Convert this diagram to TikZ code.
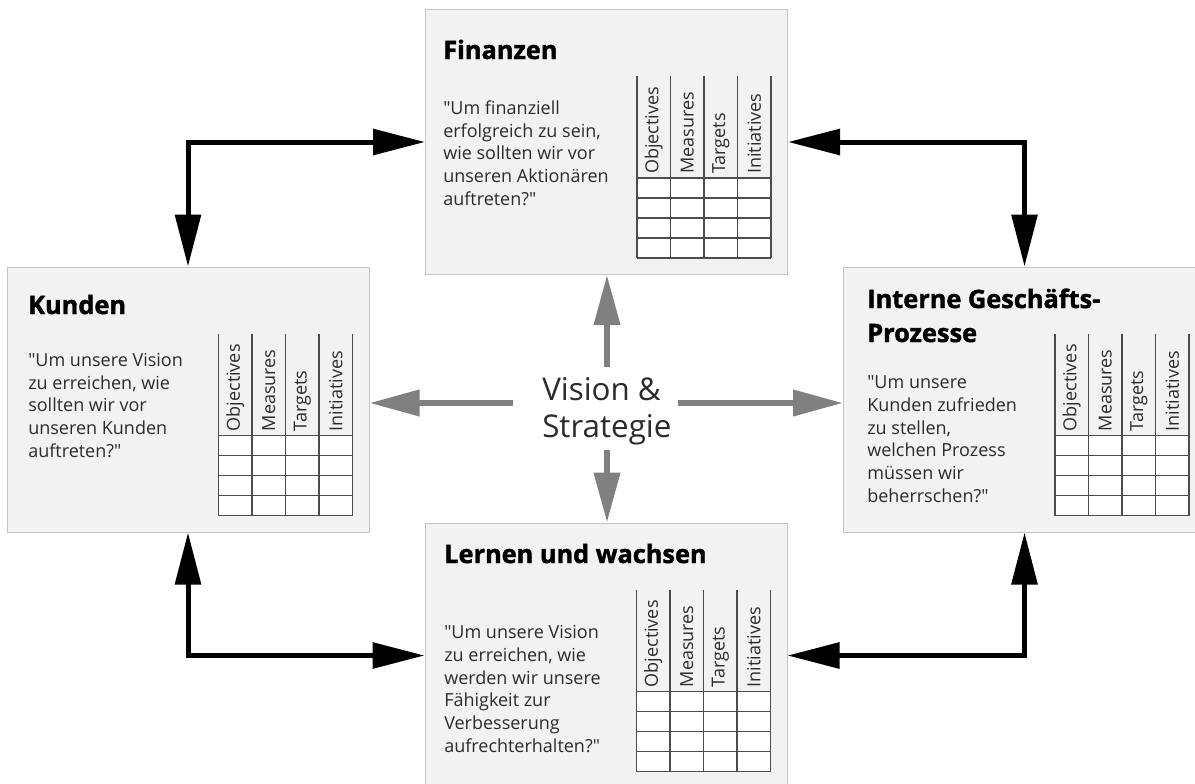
\documentclass[tikz,border=0pt]{standalone}
\usepackage{fontspec}
\setmainfont{Open Sans}[Ligatures=TeXOff,BoldFeatures={FakeBold=1.6}]
\usetikzlibrary{arrows.meta}
\definecolor{boxgray}{HTML}{F2F2F2}
\definecolor{edgegray}{HTML}{C4C4C4}
\definecolor{arrowgray}{HTML}{808080}
\definecolor{textgray}{HTML}{2B2B2B}
\tikzstyle{persp}=[rectangle,draw=edgegray,fill=boxgray,line width=0.75pt,minimum width=271.5pt,minimum height=198.75pt,inner sep=0pt]
\tikzstyle{head}=[anchor=base west,inner sep=0pt,align=left,font=\bfseries\fontsize{19}{25.5}\selectfont]
\tikzstyle{quest}=[anchor=base west,inner sep=0pt,align=left,text=textgray,font=\fontsize{13.5}{17}\selectfont]
\tikzstyle{colhead}=[rotate=90,anchor=west,inner sep=0pt,text=textgray,font=\fontsize{13.5}{17}\selectfont]
\tikzstyle{tabline}=[draw=black!70,line width=0.8pt]
\tikzstyle{blackarrow}=[line width=3.75pt,{Triangle[length=39pt,width=19pt]}-{Triangle[length=39pt,width=19pt]}]
\tikzstyle{grayarrow}=[line width=4.5pt,draw=arrowgray,-{Triangle[length=37.5pt,width=19pt]}]
\newcommand{\kpitab}[1]{%
  \begin{scope}[shift={(#1.north east)}]
    \fill[white] (-151,169) rectangle (-17,249);
    \foreach \i in {0,...,4} \draw[tabline] (-151+33.5*\i,67) -- (-151+33.5*\i,249);
    \foreach \j in {0,...,4} \draw[tabline] (-151,169+20*\j) -- (-17,169+20*\j);
    \foreach \lab [count=\i] in {Objectives,Measures,Targets,Initiatives}
      \node[colhead] (#1-\i) at (-167.75+33.5*\i,165) {\lab};
  \end{scope}}

\begin{document}
\begin{tikzpicture}[x=0.75pt,y=-0.75pt]
\useasboundingbox (0,0) rectangle (1195,783);
\node[persp] (fin) at (606.5,142) {};
\node[persp] (kun) at (188,399.5) {};
\node[persp] (int) at (1024.5,399.5) {};
\node[persp] (lern) at (606,655.5) {};

\draw[blackarrow] (kun.north) |- (fin.west);
\draw[blackarrow] (fin.east) -| (int.north);
\draw[blackarrow] (kun.south) |- (lern.west);
\draw[blackarrow] (int.south) |- (lern.east);

\node[anchor=base west,inner sep=0pt,align=left,text=textgray,font=\fontsize{23.5}{27.5}\selectfont] (vis) at (542,437) {Vision \&\\Strategie};
\coordinate (visN) at (607,367);
\coordinate (visS) at (607,450);
\coordinate (visW) at (513,403);
\coordinate (visE) at (678,403);
\draw[grayarrow] (visN) -- (visN |- fin.south);
\draw[grayarrow] (visS) -- (visS |- lern.north);
\draw[grayarrow] (visW) -- (visW -| kun.east);
\draw[grayarrow] (visE) -- (visE -| int.west);

\kpitab{fin}
\kpitab{kun}
\kpitab{int}
\kpitab{lern}

\node[head] (fin-t) at (443,59) {Finanzen};
\node[quest] (fin-q) at (443,205) {"Um finanziell\\erfolgreich zu sein,\\wie sollten wir vor\\unseren Aktionären\\auftreten?"};
\node[head] (kun-t) at (28,314) {Kunden};
\node[quest] (kun-q) at (28,457) {"Um unsere Vision\\zu erreichen, wie\\sollten wir vor\\unseren Kunden\\auftreten?"};
\node[head] (int-t) at (867,342) {Interne Geschäfts-\\Prozesse};
\node[quest] (int-q) at (867,502) {"Um unsere\\Kunden zufrieden\\zu stellen,\\welchen Prozess\\müssen wir\\beherrschen?"};
\node[head] (lern-t) at (444,563) {Lernen und wachsen};
\node[quest] (lern-q) at (444,752) {"Um unsere Vision\\zu erreichen, wie\\werden wir unsere\\Fähigkeit zur\\Verbesserung\\aufrechterhalten?"};
\end{tikzpicture}
\end{document}
